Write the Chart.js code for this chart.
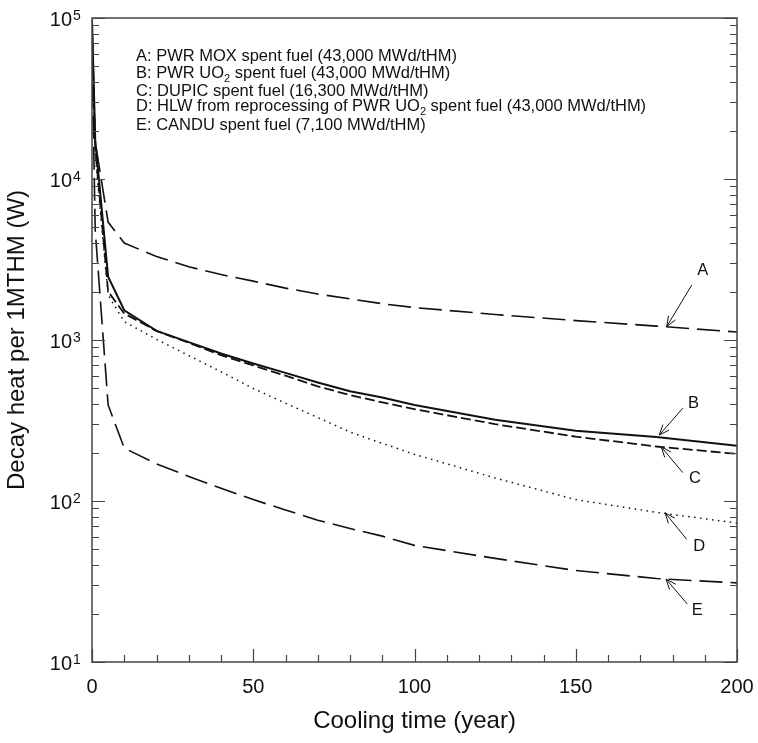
<!DOCTYPE html>
<html>
<head>
<meta charset="utf-8">
<script src="https://cdn.jsdelivr.net/npm/chart.js@4.4.1/dist/chart.umd.min.js"></script>
<style>
  html, body { margin: 0; padding: 0; background: #fff; }
</style>
</head>
<body>
<canvas id="heat" width="758" height="743"></canvas>
<script>
// cooling time (year) and decay heat (W per MTHM)
const years   = [0, 1, 5, 10, 20, 30, 40, 50, 60, 70, 80, 90, 100, 125, 150, 175, 200];
const heatMOX = [90000, 17000, 5400, 4000, 3300, 2850, 2550, 2320, 2100, 1930, 1800, 1680, 1590, 1440, 1320, 1220, 1120];
const heatUO2 = [98000, 17500, 2470, 1530, 1140, 970, 825, 715, 625, 545, 480, 440, 395, 320, 273, 250, 220];
const heatDUPIC = [85000, 15500, 2000, 1460, 1140, 960, 805, 695, 600, 515, 455, 410, 372, 300, 251, 218, 196];
const heatHLW = [80000, 14000, 1900, 1300, 1010, 800, 635, 500, 405, 330, 268, 228, 195, 139, 102, 85, 73];
const heatCANDU = [60000, 4800, 395, 213, 170, 142, 120, 102, 88, 76, 67.5, 60.5, 53, 44, 37, 33, 31];

const seriesNames = ['A', 'B', 'C', 'D', 'E'];
const legendLines = [
  ['A: PWR MOX spent fuel (43,000 MWd/tHM)'],
  ['B: PWR UO', '2', ' spent fuel (43,000 MWd/tHM)'],
  ['C: DUPIC spent fuel (16,300 MWd/tHM)'],
  ['D: HLW from reprocessing of PWR UO', '2', ' spent fuel (43,000 MWd/tHM)'],
  ['E: CANDU spent fuel (7,100 MWd/tHM)']
];

// y axis: decades 10^1..10^5, x axis labels every 50 years
const yExponents = [1, 2, 3, 4, 5];
const xLabelStep = 50;

// annotation arrows, in data units [year, W]
const arrowTip  = [[178.2, 1211], [175.9, 257], [176.5, 217], [177.7, 84.5], [178, 32.7]];
const arrowTail = [[186, 2200], [183.2, 377], [183.2, 150], [184.4, 57.8], [184.6, 22.9]];
const arrowText = [[189.4, 2720], [186.5, 404], [187, 138], [188.3, 52.5], [187.7, 20.9]];

const FONT = '"Liberation Sans", Arial, sans-serif';
const INK = '#111';

const yTickValues = [];
yExponents.forEach(e => {
  if (e === yExponents[yExponents.length - 1]) { yTickValues.push(Math.pow(10, e)); return; }
  for (let m = 1; m <= 9; m++) yTickValues.push(m * Math.pow(10, e));
});

function toPoints(values) {
  return years.map((yr, i) => ({ x: yr, y: values[i] }));
}

const decor = {
  id: 'decor',
  afterDraw(chart) {
    const { ctx, chartArea: a, scales: { x, y } } = chart;
    ctx.save();

    // frame
    ctx.strokeStyle = '#444';
    ctx.lineWidth = 1.5;
    ctx.strokeRect(a.left, a.top, a.right - a.left, a.bottom - a.top);

    // inward ticks
    ctx.lineWidth = 1.2;
    ctx.beginPath();
    y.ticks.forEach(t => {
      const py = Math.round(y.getPixelForValue(t.value)) + 0.5;
      const major = Math.abs(Math.log10(t.value) % 1) < 1e-9;
      const len = major ? 13 : 7;
      ctx.moveTo(a.left, py); ctx.lineTo(a.left + len, py);
      ctx.moveTo(a.right, py); ctx.lineTo(a.right - len, py);
    });
    x.ticks.forEach(t => {
      const px = Math.round(x.getPixelForValue(t.value)) + 0.5;
      const len = t.value % xLabelStep === 0 ? 13 : 7;
      ctx.moveTo(px, a.bottom); ctx.lineTo(px, a.bottom - len);
    });
    ctx.stroke();

    // y labels 10^n
    ctx.fillStyle = INK;
    ctx.textBaseline = 'alphabetic';
    yExponents.forEach(e => {
      const py = y.getPixelForValue(Math.pow(10, e));
      ctx.font = '20px ' + FONT;
      ctx.textAlign = 'right';
      ctx.fillText('10', a.left - 20, py + 8);
      ctx.font = '14px ' + FONT;
      ctx.textAlign = 'left';
      ctx.fillText(String(e), a.left - 19, py + 1.5);
    });

    // legend text block
    const baseOffsets = [43, 59.5, 78, 93, 111.5];
    legendLines.forEach((parts, i) => {
      let cx = a.left + 44;
      const by = a.top + baseOffsets[i];
      parts.forEach((p, k) => {
        const sub = k === 1;
        ctx.font = (sub ? '11px ' : '16.5px ') + FONT;
        ctx.fillText(p, cx, by + (sub ? 4 : 0));
        cx += ctx.measureText(p).width;
      });
    });

    // arrows with open heads
    ctx.strokeStyle = INK;
    ctx.lineWidth = 1;
    seriesNames.forEach((name, i) => {
      const tx = x.getPixelForValue(arrowTip[i][0]), ty = y.getPixelForValue(arrowTip[i][1]);
      const sx = x.getPixelForValue(arrowTail[i][0]), sy = y.getPixelForValue(arrowTail[i][1]);
      const ang = Math.atan2(ty - sy, tx - sx);
      ctx.beginPath();
      ctx.moveTo(sx, sy); ctx.lineTo(tx, ty);
      [-0.38, 0.38].forEach(d => {
        ctx.moveTo(tx, ty);
        ctx.lineTo(tx - 11 * Math.cos(ang + d), ty - 11 * Math.sin(ang + d));
      });
      ctx.stroke();
      ctx.font = '16.5px ' + FONT;
      ctx.textAlign = 'center';
      ctx.textBaseline = 'middle';
      ctx.fillText(name, x.getPixelForValue(arrowText[i][0]), y.getPixelForValue(arrowText[i][1]));
      ctx.textBaseline = 'alphabetic';
      ctx.textAlign = 'left';
    });

    ctx.restore();
  }
};

const lineStyle = (dash, width) => ({
  borderColor: INK, borderWidth: width, borderDash: dash,
  pointRadius: 0, fill: false, tension: 0
});

new Chart(document.getElementById('heat').getContext('2d'), {
  type: 'line',
  data: {
    datasets: [
      { label: 'A', data: toPoints(heatMOX), ...lineStyle([23, 8], 1.6) },
      { label: 'B', data: toPoints(heatUO2), ...lineStyle([], 2) },
      { label: 'C', data: toPoints(heatDUPIC), ...lineStyle([10, 4], 1.8) },
      { label: 'D', data: toPoints(heatHLW), ...lineStyle([1.5, 4.5], 1.5) },
      { label: 'E', data: toPoints(heatCANDU), ...lineStyle([23, 8], 1.6) }
    ]
  },
  options: {
    responsive: false,
    devicePixelRatio: 1,
    animation: false,
    layout: { padding: { top: 18, right: 21, left: 0, bottom: 0 } },
    plugins: { legend: { display: false }, tooltip: { enabled: false } },
    scales: {
      x: {
        type: 'linear', min: 0, max: 200,
        grid: { display: false, drawTicks: false },
        border: { display: false },
        ticks: {
          stepSize: 10, autoSkip: false, maxRotation: 0, padding: 13,
          color: INK, font: { size: 20, family: FONT },
          callback: v => (v % xLabelStep === 0 ? v : '')
        },
        title: {
          display: true, text: 'Cooling time (year)', color: INK,
          font: { size: 24, family: FONT }, padding: { top: 0, bottom: 7.6 }
        },
        afterFit: s => { s.height = 81; s.paddingLeft = 0; s.paddingRight = 0; }
      },
      y: {
        type: 'logarithmic', min: 10, max: 100000,
        grid: { display: false, drawTicks: false },
        border: { display: false },
        ticks: { display: false },
        afterBuildTicks: s => { s.ticks = yTickValues.map(v => ({ value: v })); },
        title: {
          display: true, text: 'Decay heat per 1MTHM (W)', color: INK,
          font: { size: 24, family: FONT }, padding: { top: 3, bottom: 0 }
        },
        afterFit: s => { s.width = 92; s.paddingTop = 0; s.paddingBottom = 0; }
      }
    }
  },
  plugins: [decor]
});
</script>
</body>
</html>
